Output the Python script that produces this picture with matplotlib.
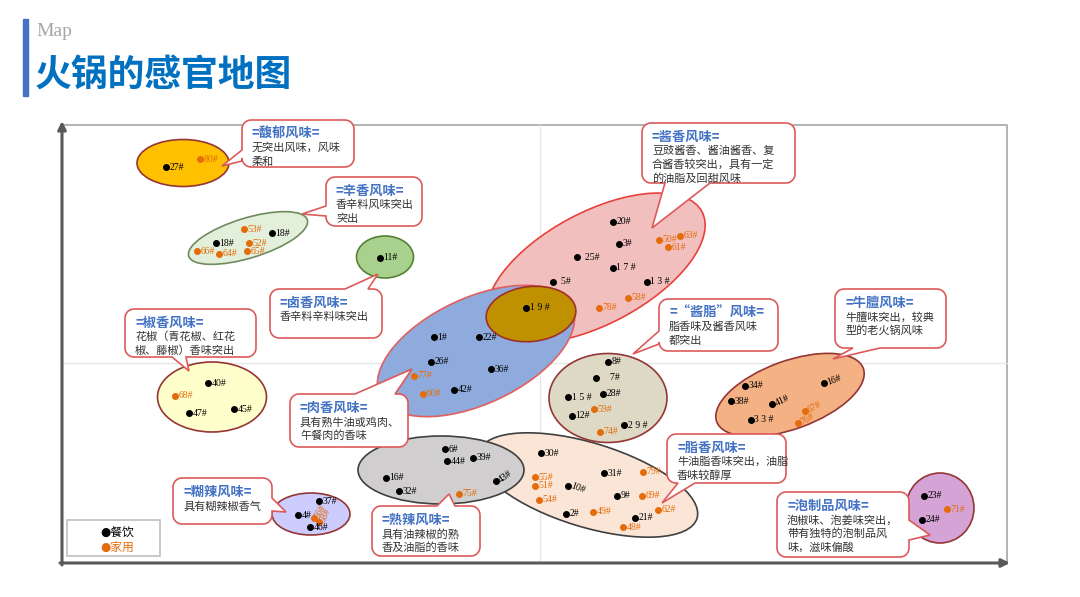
import numpy as np
import matplotlib
matplotlib.use("Agg")
import matplotlib.pyplot as plt
from matplotlib.patches import Ellipse, Polygon, Rectangle

plt.rcParams['font.family'] = ['Noto Sans CJK SC', 'DejaVu Sans']

# ---------------- data ----------------
point_labels = ['27#', '80#',
                '53#', '18#', '18#', '52#', '66#', '64#', '65#',
                '11#',
                '20#', '3#', '  25#', '1 7 #', '  5#', '1 3 #', '50#', '63#', '61#', '58#', '78#',
                '1 9 #',
                '1#', '22#', '26#', '36#', '77#', '42#', '60#',
                '8#', '    7#', '1 5 #', '28#', '59#', '12#', '2 9 #', '74#',
                '34#', '16#', '38#', '41#', '3 3 #', '67#', '76#',
                '40#', '68#', '47#', '45#',
                '6#', '44#', '39#', '16#', '32#', '43#', '75#',
                '30#', '31#', '79#', '55#', '51#', '10#', '9#', '69#', '54#', '62#', '2#', '49#', '21#', '48#',
                '37#', '4#', '56#', '58#', '46#',
                '23#', '71#', '24#']
point_x = [104, 138,
           182, 210, 154, 187, 135, 157, 185,
           318,
           551, 557, 515, 551, 491, 585, 597, 618, 606, 566, 537,
           464,
           372, 417, 369, 429, 352, 392, 361,
           546, 534, 506, 541, 532, 510, 562, 538,
           683, 762, 669, 710, 689, 743, 736,
           146, 113, 127, 172,
           383, 385, 411, 324, 337, 434, 397,
           479, 542, 581, 473, 473, 506, 555, 580, 477, 596, 504, 531, 573, 561,
           257, 236, 252, 257, 248,
           862, 885, 860]
point_y = [396, 404,
           334, 330, 320, 320, 312, 309, 312,
           305,
           341, 319, 306, 295, 281, 281, 323, 327, 316, 265, 255,
           255,
           226, 226, 201, 194, 187, 173, 169,
           201, 185, 166, 169, 154, 147, 138, 131,
           177, 180, 162, 159, 143, 152, 140,
           180, 167, 150, 154,
           114, 102, 105, 85, 72, 82, 69,
           110, 90, 91, 86, 77, 77, 67, 67, 63, 53, 49, 51, 45, 36,
           62, 48, 45, 41, 36,
           67, 54, 43]
# 0 = 餐饮, 1 = 家用
point_type = [0, 1,
              1, 0, 0, 1, 1, 1, 1,
              0,
              0, 0, 0, 0, 0, 0, 1, 1, 1, 1, 1,
              0,
              0, 0, 0, 0, 1, 0, 1,
              0, 0, 0, 0, 1, 0, 0, 1,
              0, 0, 0, 0, 0, 1, 1,
              0, 1, 0, 0,
              0, 0, 0, 0, 0, 0, 1,
              0, 0, 1, 1, 1, 0, 0, 1, 1, 1, 0, 1, 0, 1,
              0, 0, 1, 1, 0,
              0, 1, 0]
label_rotation = {38: 20, 40: 25, 42: 30, 43: 30, 53: 35, 60: -20, 71: 65, 72: 65}

# flavour regions (ellipses)
region_names = ['馥郁', '辛香', '卤香', '酱香', '肉香', '酱香∩肉香', '酱脂', '牛膻',
                '椒香', '脂香', '熟辣', '糊辣', '泡制品']
region_cx = [121, 186, 323, 534, 414, 469, 546, 728, 150, 526, 379, 249, 878]
region_cy = [400, 325, 306, 295, 212, 249, 165, 168, 166, 78, 93, 49, 55]
region_w = [92, 124, 57, 240, 212, 90, 118, 156, 109, 228, 166, 78, 68]
region_h = [47, 40, 42, 112, 106, 55, 89, 68, 70, 84, 68, 42, 70]
region_angle = [0, 17, 0, 28, 25, 6, 0, 20, 0, -17, 0, 0, 0]

callout_titles = ['=馥郁风味=', '=辛香风味=', '=卤香风味=', '=椒香风味=', '=肉香风味=',
                  '=糊辣风味=', '=熟辣风味=', '=酱香风味=', '=“酱脂”风味=', '=牛膻风味=',
                  '=脂香风味=', '=泡制品风味=']
callout_bodies = [['无突出风味，风味', '柔和'],
                  ['香辛料风味突出', '突出'],
                  ['香辛料辛料味突出'],
                  ['花椒（青花椒、红花', '椒、藤椒）香味突出'],
                  ['具有熟牛油或鸡肉、', '午餐肉的香味'],
                  ['具有糊辣椒香气'],
                  ['具有油辣椒的熟', '香及油脂的香味'],
                  ['豆豉酱香、酱油酱香、复', '合酱香较突出，具有一定', '的油脂及回甜风味'],
                  ['脂香味及酱香风味', '都突出'],
                  ['牛膻味突出，较典', '型的老火锅风味'],
                  ['牛油脂香味突出，油脂', '香味较醇厚'],
                  ['泡椒味、泡姜味突出，', '带有独特的泡制品风', '味，滋味偏酸']]
legend_labels = ['●餐饮', '●家用']

# ---------------- styles / layout ----------------
BLACK = '#000000'
ORANGE = '#E46C0A'
region_face = ['#FFC000', '#E2EFDA', '#A9D18E', '#F2BFBF', '#8FAADC', '#BF9000', '#DDD9C4',
               '#F4B183', '#FFFFCC', '#FBE5D6', '#D0CECE', '#CCCCFF', '#D5A3D5']
region_edge = ['#943634', '#6E8B5E', '#548235', '#E8413C', '#E06060', '#A0302A', '#943634',
               '#943634', '#943634', '#404040', '#404040', '#943634', '#943634']
region_z = [1, 1, 1, 1, 2, 3, 2, 1, 1, 1, 2, 1, 1]

OX, OY = 62, 563  # frame origin in pixel layout


def P(px, py):
    return (px - OX, OY - py)


fig = plt.figure(figsize=(10.8, 5.97), dpi=100)
ax = fig.add_axes([0, 0, 1, 1])
ax.set_xlim(-OX, 1080 - OX)
ax.set_ylim(OY - 597, OY)
ax.axis('off')

# header
ax.add_patch(Rectangle(P(23, 96), 5, 77, color='#4472C4', zorder=5))
ax.text(*P(36, 32), 'Map', family=['Liberation Serif'], fontsize=14, color='#A6A6A6',
        va='center', ha='left')
ax.text(*P(35, 75), '火锅的感官地图', fontsize=26.5, fontweight='bold', color='#0070C0',
        va='center', ha='left')

# frame & grid
ax.plot(*zip(P(62, 125), P(1007, 125), P(1007, 563)), color='#A6A6A6', lw=1.2, zorder=0)
ax.plot(*zip(P(540, 125), P(540, 563)), color='#E6E6E6', lw=0.9, zorder=0)
ax.plot(*zip(P(62, 363), P(1007, 363)), color='#E6E6E6', lw=0.9, zorder=0)
ax.annotate('', xy=P(62, 121), xytext=P(62, 565),
            arrowprops=dict(arrowstyle='-|>', color='#595959', lw=2.2, mutation_scale=12,
                            shrinkA=0, shrinkB=0), zorder=6)
ax.annotate('', xy=P(1010, 563), xytext=P(60, 563),
            arrowprops=dict(arrowstyle='-|>', color='#595959', lw=2.2, mutation_scale=12,
                            shrinkA=0, shrinkB=0), zorder=6)

# regions
for i in range(len(region_names)):
    ax.add_patch(Ellipse((region_cx[i], region_cy[i]), region_w[i], region_h[i],
                         angle=region_angle[i], facecolor=region_face[i],
                         edgecolor=region_edge[i], lw=1.2, zorder=region_z[i]))

# points
for i, lab in enumerate(point_labels):
    c = ORANGE if point_type[i] else BLACK
    ax.plot(point_x[i], point_y[i], 'o', ms=4, color=c, zorder=7)
    rot = label_rotation.get(i, 0)
    ax.text(point_x[i] + 3.5, point_y[i], lab, family=['Liberation Serif'], fontsize=7,
            color=c, ha='left', va='center', rotation=rot, rotation_mode='anchor', zorder=7)


# callouts
def callout_pts(x0, y0, x1, y1, side, a, b, tip, r=9):
    pts = []

    def arc(cx, cy, t0, t1):
        for t in np.linspace(np.radians(t0), np.radians(t1), 8):
            pts.append((cx + r * np.cos(t), cy + r * np.sin(t)))
    if side == 'top':
        pts.extend([(a, y0), tip, (b, y0)])
    arc(x1 - r, y0 + r, -90, 0)
    if side == 'right':
        pts.extend([(x1, a), tip, (x1, b)])
    arc(x1 - r, y1 - r, 0, 90)
    if side == 'bottom':
        pts.extend([(b, y1), tip, (a, y1)])
    arc(x0 + r, y1 - r, 90, 180)
    if side == 'left':
        pts.extend([(x0, b), tip, (x0, a)])
    arc(x0 + r, y0 + r, 180, 270)
    return [P(x, y) for x, y in pts]


callout_geom = [
    (242, 120, 354, 167, 'left', 150, 161, (222, 166)),
    (326, 177, 422, 226, 'left', 206, 216, (302, 214)),
    (270, 289, 382, 338, 'top', 345, 368, (378, 274)),
    (125, 309, 256, 357, 'bottom', 172, 186, (189, 371)),
    (290, 394, 408, 447, 'top', 355, 395, (412, 369)),
    (173, 478, 272, 524, 'right', 498, 511, (286, 512)),
    (372, 506, 480, 556, 'top', 437, 455, (449, 494)),
    (642, 123, 795, 183, 'bottom', 665, 710, (652, 228)),
    (659, 299, 778, 351, 'left', 331, 344, (633, 354)),
    (835, 289, 946, 348, 'bottom', 853, 880, (833, 359)),
    (667, 434, 786, 483, 'bottom', 678, 695, (662, 503)),
    (777, 492, 909, 557, 'right', 520, 540, (930, 535)),
]
for (x0, y0, x1, y1, side, a, b, tip), title, body in zip(callout_geom, callout_titles,
                                                            callout_bodies):
    ax.add_patch(Polygon(callout_pts(x0, y0, x1, y1, side, a, b, tip), closed=True,
                         facecolor='white', edgecolor='#DD5A5A', lw=1.2, zorder=8))
    ax.text(*P(x0 + 10, y0 + 14), title, fontsize=9.5, fontweight='bold', color='#4472C4',
            ha='left', va='center', zorder=9)
    for k, line in enumerate(body):
        ax.text(*P(x0 + 10, y0 + 28 + 13.5 * k), line, fontsize=8, color='#333333',
                ha='left', va='center', zorder=9)

# legend
ax.add_patch(Rectangle(P(67, 556), 93, 36, facecolor='white', edgecolor='#BFBFBF', lw=1.2,
                       zorder=8))
ax.text(*P(100, 532), legend_labels[0], family=['DejaVu Sans', 'Noto Sans CJK SC'],
        fontsize=8.5, color=BLACK, ha='left', va='center', zorder=9)
ax.text(*P(100, 547), legend_labels[1], family=['DejaVu Sans', 'Noto Sans CJK SC'],
        fontsize=8.5, color=ORANGE, ha='left', va='center', zorder=9)

fig.savefig('out.png', dpi=100)
